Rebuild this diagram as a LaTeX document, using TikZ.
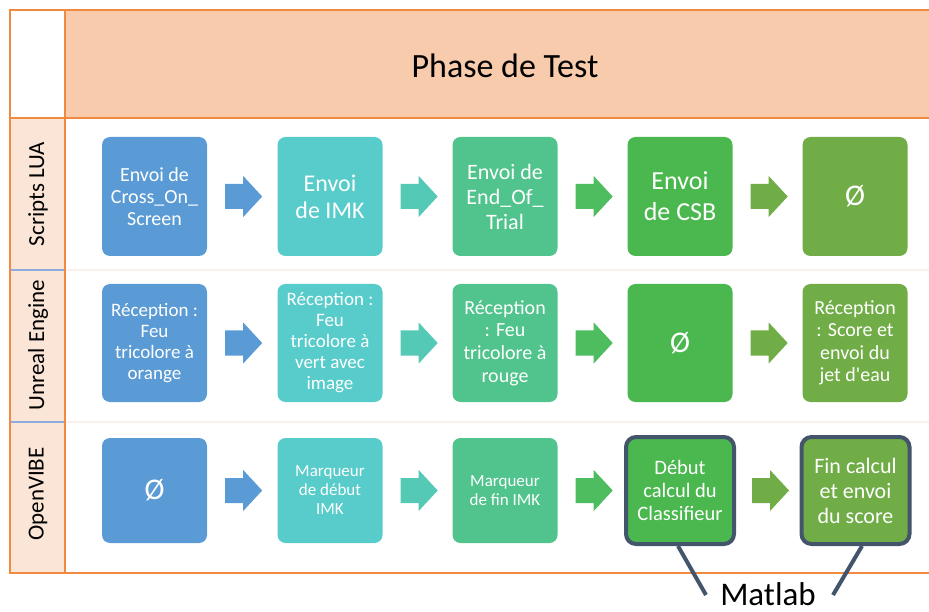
\documentclass[tikz,border=0pt]{standalone}
\usepackage{fontspec}
\setmainfont{Carlito}
\usetikzlibrary{calc}
\definecolor{cA}{HTML}{5B9BD5}
\definecolor{cB}{HTML}{57CCCB}
\definecolor{cC}{HTML}{50C48C}
\definecolor{cD}{HTML}{4AB84E}
\definecolor{cE}{HTML}{70AD47}
\definecolor{aB}{HTML}{54CAB6}
\definecolor{aC}{HTML}{4DBD60}
\definecolor{hdr}{HTML}{F8CBAD}
\definecolor{lbl}{HTML}{FBE5D6}
\definecolor{orl}{HTML}{F08A3E}
\definecolor{bsep}{HTML}{8FAADC}
\definecolor{dark}{HTML}{44546A}
\newcommand{\fs}[2]{\fontsize{#1}{#2}\selectfont}
\newcommand{\barrow}[2]{%
  \fill[#2] ($(#1.east)+(18,-12.5)$) -- ++(18,0) -- ++(0,-8) -- ++(19,20.5)
    -- ++(-19,20.5) -- ++(0,-8) -- ++(-18,0) -- cycle;}
\begin{document}
\begin{tikzpicture}[x=1pt,y=-1pt,
  box/.style={rounded corners=8pt, minimum width=105pt, align=center,
    text=white, inner sep=0pt},
  rowA/.style={box, minimum height=119pt},
  rowB/.style={box, minimum height=118pt},
  rowC/.style={box, minimum height=105pt},
  mat/.style={box, minimum width=108pt, minimum height=107pt, draw=dark,
    line width=4pt, rounded corners=10pt},
  lane/.style={rotate=90, font=\fs{23}{27}, text=black},
  conn/.style={draw=dark, line width=4pt}]
\useasboundingbox (0,0) rectangle (929,612);
% table
\fill[hdr] (65,10) rectangle (929,118);
\fill[lbl] (10,118) rectangle (65,573);
\draw[lbl!80!orl!30, line width=1.5pt] (65,270) -- (929,270) (65,422) -- (929,422);
\draw[bsep, line width=1.5pt] (10,270) -- (65,270) (10,422) -- (65,422);
\draw[orl, line width=2pt] (929,10) -- (10,10) -- (10,573) -- (929,573);
\draw[orl, line width=2pt] (65,10) -- (65,573) (10,118) -- (929,118);
% header and lanes
\node[font=\fs{34}{38}] (title) at (505,66) {Phase de Test};
\node[lane] (lua) at (38,194) {Scripts LUA};
\node[lane] (ue) at (38,345) {Unreal Engine};
\node[lane] (ov) at (38,494) {OpenVIBE};
% row 1
\node[rowA, fill=cA, font=\fs{20}{22}] (b11) at (154.5,196.5) {Envoi de\\Cross\_On\_\\Screen};
\node[rowA, fill=cB, font=\fs{24}{27}] (b12) at (330,196.5) {Envoi\\de IMK};
\node[rowA, fill=cC, font=\fs{22}{25}] (b13) at (505,196.5) {Envoi de\\End\_Of\_\\Trial};
\node[rowA, fill=cD, font=\fs{26}{31}] (b14) at (680,196.5) {Envoi\\de CSB};
\node[rowA, fill=cE, font=\fs{30}{34}] (b15) at (855,196.5) {Ø};
% row 2
\node[rowB, fill=cA, font=\fs{19}{21}] (b21) at (154.5,343) {Réception :\\Feu\\tricolore à\\orange};
\node[rowB, fill=cB, font=\fs{19}{21}] (b22) at (330,343) {Réception :\\Feu\\tricolore à\\vert avec\\image};
\node[rowB, fill=cC, font=\fs{20}{22.7}] (b23) at (505,343) {Réception\\: Feu\\tricolore à\\rouge};
\node[rowB, fill=cD, font=\fs{30}{34}] (b24) at (680,343) {Ø};
\node[rowB, fill=cE, font=\fs{20}{22.5}] (b25) at (855,343) {Réception\\: Score et\\envoi du\\jet d\textquotesingle eau};
% row 3
\node[rowC, fill=cA, font=\fs{30}{34}] (b31) at (154.5,490.5) {Ø};
\node[rowC, fill=cB, font=\fs{17}{19}] (b32) at (330,490.5) {Marqueur\\de début\\IMK};
\node[rowC, fill=cC, font=\fs{17}{19}] (b33) at (505,490.5) {Marqueur\\de fin IMK};
\node[mat, fill=cD, font=\fs{20.5}{23}] (b34) at (680,490.5) {Début\\calcul du\\Classifieur};
\node[mat, fill=cE, font=\fs{22}{25}] (b35) at (855.5,490.5) {Fin calcul\\et envoi\\du score};
% block arrows
\barrow{b11}{cA}\barrow{b12}{aB}\barrow{b13}{aC}\barrow{b14}{cE}
\barrow{b21}{cA}\barrow{b22}{aB}\barrow{b23}{aC}\barrow{b24}{cE}
\barrow{b31}{cA}\barrow{b32}{aB}\barrow{b33}{aC}
\fill[cE] ($(b34.east)+(16,-12.5)$) -- ++(18,0) -- ++(0,-8) -- ++(19,20.5)
    -- ++(-19,20.5) -- ++(0,-8) -- ++(-18,0) -- cycle;
% Matlab callout
\node[font=\fs{33}{36}, anchor=base, inner sep=0pt] (matlab) at (768,605) {Matlab};
\coordinate (m1) at (706,595);
\coordinate (m2) at (833,595);
\draw[conn] ($(b34.south)+(-2,0)$) -- (m1);
\draw[conn] ($(b35.south)+(6.5,0)$) -- (m2);
\end{tikzpicture}
\end{document}
